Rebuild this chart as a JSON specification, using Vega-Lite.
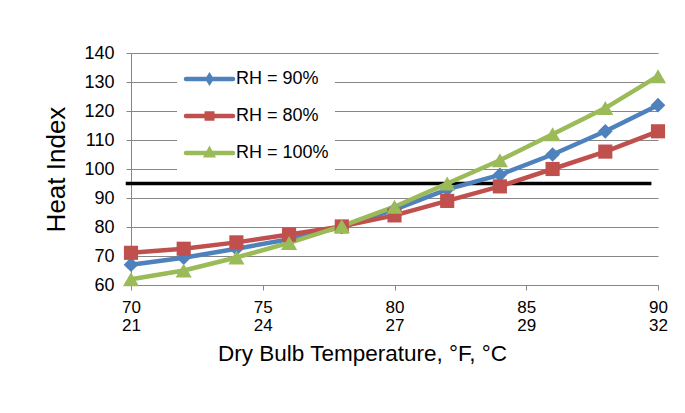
{
  "$schema": "https://vega.github.io/schema/vega-lite/v6.json",
  "width": 527,
  "height": 232,
  "autosize": {"type": "none"},
  "padding": {"left": 131, "top": 53, "right": 27, "bottom": 128},
  "background": "white",
  "config": {"font": "Liberation Sans", "view": {"stroke": null}},
  "datasets": {
    "hi": [
      {"temp": 70, "hi": 67.0, "series": "RH = 90%"},
      {"temp": 72, "hi": 69.4, "series": "RH = 90%"},
      {"temp": 74, "hi": 72.5, "series": "RH = 90%"},
      {"temp": 76, "hi": 75.8, "series": "RH = 90%"},
      {"temp": 78, "hi": 80.0, "series": "RH = 90%"},
      {"temp": 80, "hi": 86, "series": "RH = 90%"},
      {"temp": 82, "hi": 93, "series": "RH = 90%"},
      {"temp": 84, "hi": 98, "series": "RH = 90%"},
      {"temp": 86, "hi": 105, "series": "RH = 90%"},
      {"temp": 88, "hi": 113, "series": "RH = 90%"},
      {"temp": 90, "hi": 122, "series": "RH = 90%"},
      {"temp": 70, "hi": 71.1, "series": "RH = 80%"},
      {"temp": 72, "hi": 72.5, "series": "RH = 80%"},
      {"temp": 74, "hi": 74.7, "series": "RH = 80%"},
      {"temp": 76, "hi": 77.4, "series": "RH = 80%"},
      {"temp": 78, "hi": 80.2, "series": "RH = 80%"},
      {"temp": 80, "hi": 84, "series": "RH = 80%"},
      {"temp": 82, "hi": 89, "series": "RH = 80%"},
      {"temp": 84, "hi": 94, "series": "RH = 80%"},
      {"temp": 86, "hi": 100, "series": "RH = 80%"},
      {"temp": 88, "hi": 106, "series": "RH = 80%"},
      {"temp": 90, "hi": 113, "series": "RH = 80%"},
      {"temp": 70, "hi": 62.0, "series": "RH = 100%"},
      {"temp": 72, "hi": 65.0, "series": "RH = 100%"},
      {"temp": 74, "hi": 69.5, "series": "RH = 100%"},
      {"temp": 76, "hi": 74.5, "series": "RH = 100%"},
      {"temp": 78, "hi": 80.3, "series": "RH = 100%"},
      {"temp": 80, "hi": 87, "series": "RH = 100%"},
      {"temp": 82, "hi": 95, "series": "RH = 100%"},
      {"temp": 84, "hi": 103, "series": "RH = 100%"},
      {"temp": 86, "hi": 112, "series": "RH = 100%"},
      {"temp": 88, "hi": 121, "series": "RH = 100%"},
      {"temp": 90, "hi": 132, "series": "RH = 100%"}
    ],
    "ref": [{"temp": 69.8, "temp2": 89.75, "hi": 95}]
  },
  "encoding": {
    "x": {
      "field": "temp", "type": "quantitative",
      "scale": {"domain": [70, 90], "nice": false, "zero": false},
      "axis": {
        "values": [70, 75, 80, 85, 90],
        "labelExpr": "datum.value == 70 ? ['70','21'] : datum.value == 75 ? ['75','24'] : datum.value == 80 ? ['80','27'] : datum.value == 85 ? ['85','29'] : ['90','32']",
        "grid": false,
        "domainColor": "#868686", "tickColor": "#868686", "tickSize": 5,
        "labelFontSize": 17, "labelColor": "black", "labelLineHeight": 18,
        "labelPadding": 9, "labelFlush": false, "labelOverlap": false,
        "title": "Dry Bulb Temperature, °F, °C",
        "titleFontSize": 22.5, "titleFontWeight": "normal", "titleColor": "black",
        "titlePadding": 9, "titleX": 231
      }
    },
    "y": {
      "field": "hi", "type": "quantitative",
      "scale": {"domain": [60, 140], "nice": false, "zero": false},
      "axis": {
        "values": [60, 70, 80, 90, 100, 110, 120, 130, 140],
        "grid": true, "gridColor": "#868686",
        "domainColor": "#868686", "tickColor": "#868686", "tickSize": 5,
        "labelFontSize": 18, "labelColor": "black", "labelPadding": 12,
        "title": "Heat Index",
        "titleFontSize": 26, "titleFontWeight": "normal", "titleColor": "black",
        "titlePadding": 14
      }
    },
    "color": {
      "field": "series", "type": "nominal",
      "scale": {"domain": ["RH = 90%", "RH = 80%", "RH = 100%"], "range": ["#4F81BD", "#C0504D", "#9BBB59"]},
      "legend": {
        "orient": "none", "legendX": 46, "legendY": 11,
        "title": null, "fillColor": "white", "padding": 6,
        "labelFontSize": 18, "labelColor": "black", "labelFont": "Liberation Sans",
        "symbolSize": 100, "symbolStrokeWidth": 4.5, "labelOffset": 35, "rowPadding": 13,
        "encode": {
          "symbols": {
            "update": {
              "shape": {"signal": "datum.value == 'RH = 90%' ? 'M-1.2,0L8.2,0M3.5,-0.55L3.85,0L3.5,0.55L3.15,0Z' : datum.value == 'RH = 80%' ? 'M-1.2,0L8.2,0M2.95,-0.5L4.05,-0.5L4.05,0.5L2.95,0.5Z' : 'M-1.2,0L8.2,0M3.5,-0.55L4.05,0.45L2.95,0.45Z'"},
              "fill": {"signal": "scale('color', datum.value)"},
              "stroke": {"signal": "scale('color', datum.value)"},
              "strokeWidth": {"value": 4.5},
              "strokeCap": {"value": "round"},
              "opacity": {"value": 1}
            }
          }
        }
      }
    }
  },
  "layer": [
    {
      "data": {"name": "ref"},
      "mark": {"type": "rule", "color": "black", "strokeWidth": 3.5},
      "encoding": {"x2": {"field": "temp2"}, "color": {"value": "black"}}
    },
    {
      "data": {"name": "hi"},
      "mark": {"type": "line", "strokeWidth": 4.5, "strokeJoin": "round", "strokeCap": "round"},
      "encoding": {}
    },
    {
      "data": {"name": "hi"},
      "transform": [{"filter": "datum.series == 'RH = 90%'"}],
      "mark": {"type": "point", "filled": true, "opacity": 1, "shape": "diamond", "size": 215},
      "encoding": {}
    },
    {
      "data": {"name": "hi"},
      "transform": [{"filter": "datum.series == 'RH = 80%'"}],
      "mark": {"type": "point", "filled": true, "opacity": 1, "shape": "square", "size": 200},
      "encoding": {}
    },
    {
      "data": {"name": "hi"},
      "transform": [{"filter": "datum.series == 'RH = 100%'"}],
      "mark": {"type": "point", "filled": true, "opacity": 1, "shape": "triangle-up", "size": 260},
      "encoding": {}
    }
  ]
}
